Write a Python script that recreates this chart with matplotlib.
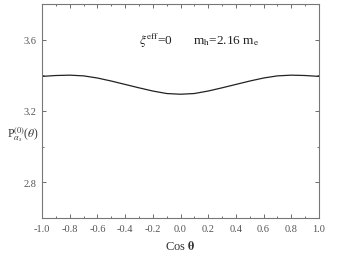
import matplotlib
matplotlib.use("Agg")
import matplotlib.pyplot as plt
from matplotlib.ticker import MultipleLocator

plt.rcParams['font.family'] = ['Liberation Serif', 'DejaVu Serif']
plt.rcParams['mathtext.fontset'] = 'stix'

cos_theta = [-1.0, -0.9, -0.8, -0.7, -0.6, -0.5, -0.4, -0.3, -0.2, -0.1, 0.0,
             0.1, 0.2, 0.3, 0.4, 0.5, 0.6, 0.7, 0.8, 0.9, 1.0]
p_theta = [3.394, 3.399, 3.401, 3.397, 3.385, 3.368, 3.349, 3.330, 3.312, 3.298, 3.294,
           3.298, 3.312, 3.330, 3.349, 3.368, 3.385, 3.397, 3.401, 3.399, 3.394]
x_ticks = [-1.0, -0.8, -0.6, -0.4, -0.2, 0.0, 0.2, 0.4, 0.6, 0.8, 1.0]
y_ticks = [2.8, 3.2, 3.6]

gray = '#555555'

fig = plt.figure(figsize=(3.54, 2.55), dpi=100)
ax = fig.add_axes([42/354, 1-219/255, 277/354, 214/255])
ax.plot(cos_theta, p_theta, color='#222222', lw=0.9)

ax.set_xlim(-1.0, 1.0)
ax.set_ylim(2.6, 3.8)
ax.xaxis.set_minor_locator(MultipleLocator(0.1))
ax.yaxis.set_minor_locator(MultipleLocator(0.2))
ax.set_yticks(y_ticks)
ax.set_xticks(x_ticks)
ax.set_xticklabels(['%.1f' % v for v in x_ticks])
ax.tick_params(which='both', direction='in', top=True, right=True,
               colors=gray, labelsize=7.5, width=0.6)
ax.tick_params(which='major', length=3, pad=4)
ax.tick_params(which='minor', length=1.5)
for s in ax.spines.values():
    s.set_color('#777777')
    s.set_linewidth(0.8)

ax.set_xlabel(r'Cos $\mathbf{\theta}$', fontsize=9, color='#333333', labelpad=5)
fig.text(7/354, 1-135/255, r'P$^{(0)}_{\alpha_s}$($\theta$)', fontsize=8.5,
         color='#333333', va='center', ha='left')
ax.text(-0.18, 3.60, r'$\xi^{\rm eff}$=0', fontsize=9.5, color='#222222', ha='center', va='center')
ax.text(0.33, 3.60, r'm$_{\rm h}$=2.16 m$_{\rm e}$', fontsize=9.5, color='#222222', ha='center', va='center')

fig.savefig('out.png', dpi=100)
